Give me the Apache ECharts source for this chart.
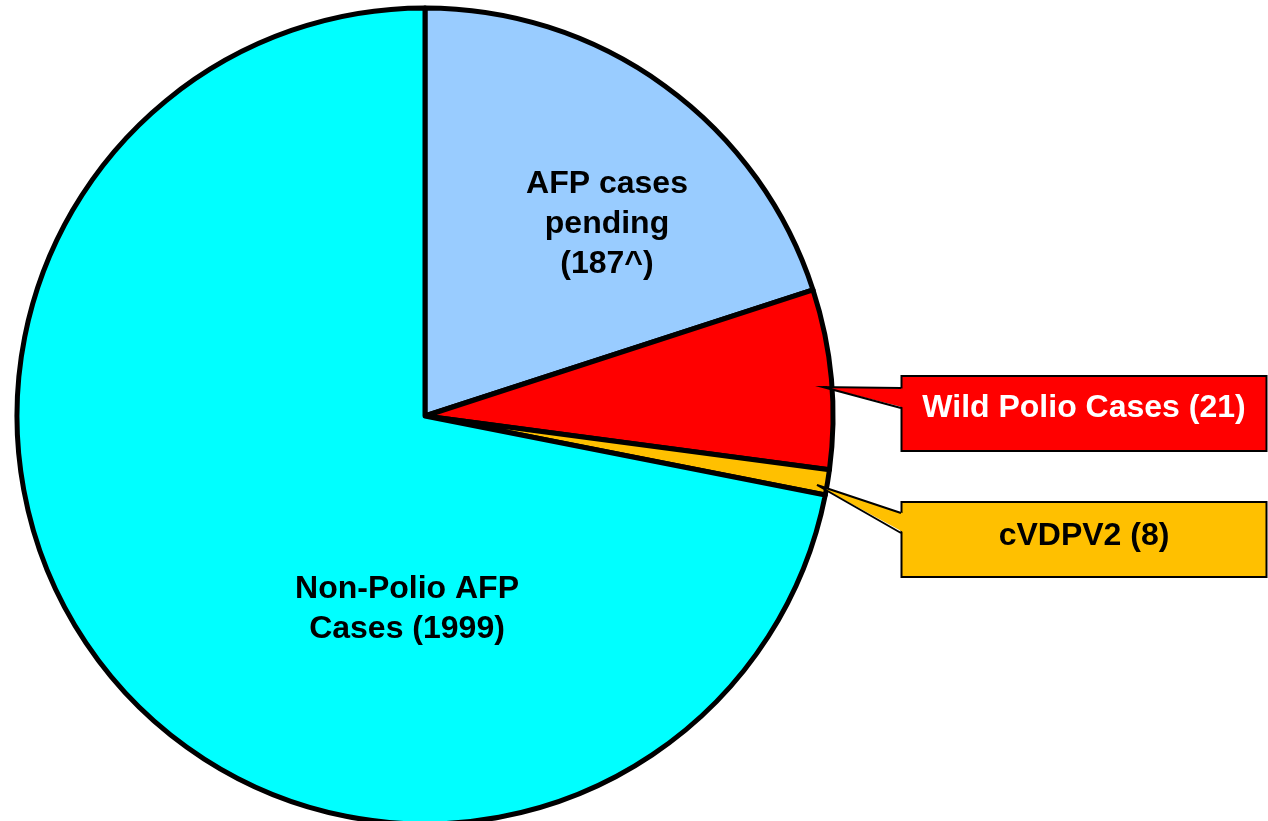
<!DOCTYPE html>
<html>
<head>
<meta charset="utf-8">
<script src="https://cdn.jsdelivr.net/npm/echarts@6/dist/echarts.min.js"></script>
<style>
  html, body { margin: 0; padding: 0; background: #fff; }
  #chart { width: 1268px; height: 821px; }
</style>
</head>
<body>
<div id="chart"></div>
<script>
// slice data (sizes as drawn in the chart, % of the circle)
var sliceNames = ['AFP cases pending', 'Wild Polio Cases', 'cVDPV2', 'Non-Polio AFP Cases'];
var sliceShares = [20, 7.1, 1, 71.9];
var caseCounts = ['187^', '21', '8', '1999'];
var labelText = ['AFP cases\npending\n(187^)', 'Wild Polio Cases (21)', 'cVDPV2 (8)', 'Non-Polio AFP\nCases (1999)'];
var sliceColors = ['#99CCFF', '#FF0000', '#FFC000', '#00FFFF'];

var FONT = '"Liberation Sans", Arial, sans-serif';

// where each label sits (inside labels: centre, callout boxes: top centre)
var labelPos = [
  { x: 607, y: 224, align: 'center', verticalAlign: 'middle' },
  { x: 1084, y: 377, align: 'center', verticalAlign: 'top' },
  { x: 1084, y: 503, align: 'center', verticalAlign: 'top' },
  { x: 407, y: 609, align: 'center', verticalAlign: 'middle' }
];

var plainLabel = {
  show: true,
  color: '#000',
  fontFamily: FONT,
  fontWeight: 'bold',
  fontSize: 32,
  lineHeight: 40,
  align: 'center'
};
function boxLabel(bg, fg, padTop) {
  return {
    show: true,
    color: fg,
    fontFamily: FONT,
    fontWeight: 'bold',
    fontSize: 32,
    lineHeight: 35,
    width: 363,
    align: 'center',
    backgroundColor: bg,
    borderColor: '#000',
    borderWidth: 2,
    padding: [padTop, 0, 38 - padTop, 0]
  };
}

var pieData = sliceNames.map(function (name, i) {
  var lbl = (i === 1) ? boxLabel(sliceColors[1], '#fff', 14)
          : (i === 2) ? boxLabel(sliceColors[2], '#000', 16)
          : plainLabel;
  return {
    name: name,
    value: sliceShares[i],
    itemStyle: { color: sliceColors[i] },
    label: Object.assign({ formatter: labelText[i] }, lbl)
  };
});

var chart = echarts.init(document.getElementById('chart'));
chart.setOption({
  backgroundColor: '#fff',
  animation: false,
  series: [
    {
      type: 'pie',
      center: [425, 416],
      radius: 408,
      startAngle: 90,
      clockwise: true,
      silent: true,
      itemStyle: { borderColor: '#000', borderWidth: 5 },
      labelLine: { show: false },
      label: { position: 'inside' },
      labelLayout: function (params) {
        return labelPos[params.dataIndex];
      },
      data: pieData
    }
  ],
  // callout pointers
  graphic: [
    {
      type: 'polygon', z: 100,
      shape: { points: [[823, 387], [904, 388.5], [904, 407.5]] },
      style: { fill: '#FF0000' }
    },
    {
      type: 'polyline', z: 101,
      shape: { points: [[901, 388], [823, 387], [901, 408]] },
      style: { stroke: '#000', lineWidth: 2, fill: null }
    },
    {
      type: 'polygon', z: 100,
      shape: { points: [[817, 485], [904, 513.5], [904, 532.5]] },
      style: { fill: '#FFC000' }
    },
    {
      type: 'polyline', z: 101,
      shape: { points: [[901, 513], [817, 485], [901, 533]] },
      style: { stroke: '#000', lineWidth: 2, fill: null }
    }
  ]
});
</script>
</body>
</html>
